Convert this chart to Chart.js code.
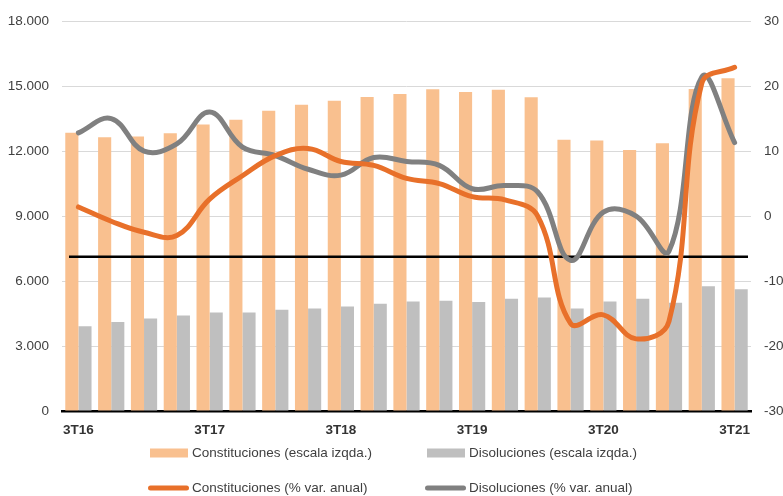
<!DOCTYPE html>
<html>
<head>
<meta charset="utf-8">
<script src="https://cdn.jsdelivr.net/npm/chart.js@4.4.1/dist/chart.umd.min.js"></script>
<style>
html,body{margin:0;padding:0;background:#ffffff;}
canvas{display:block;}
</style>
</head>
<body>
<canvas id="c" width="783" height="496"></canvas>
<script>
// ---- Data ----
const categories = ['3T16','4T16','1T17','2T17','3T17','4T17','1T18','2T18','3T18','4T18','1T19','2T19','3T19','4T19','1T20','2T20','3T20','4T20','1T21','2T21','3T21'];
const shownLabels = ['3T16','3T17','3T18','3T19','3T20','3T21'];
const constituciones = [12850,12640,12670,12820,13230,13450,13860,14140,14320,14500,14640,14850,14730,14830,14490,12520,12490,12050,12360,14860,15360];
const disoluciones = [3910,4110,4270,4410,4550,4550,4670,4730,4820,4950,5060,5090,5030,5180,5240,4730,5050,5180,5000,5760,5620];
const constitucionesVar = [1.4,-0.8,-2.5,-3.0,2.6,6.2,9.3,10.4,8.4,7.8,5.8,5.0,3.0,2.5,0.0,-16.5,-15.2,-18.9,-16.2,20.4,22.9];
const disolucionesVar = [12.8,15.0,10.0,11.1,16.0,10.6,9.3,7.2,6.3,9.0,8.4,7.8,4.2,4.7,3.7,-6.8,0.6,0.0,-5.4,21.4,11.3];
const legendLabels = ['Constituciones (escala izqda.)','Disoluciones (escala izqda.)','Constituciones (% var. anual)','Disoluciones (% var. anual)'];
const leftAxis = {min: 0, max: 18000, step: 3000};
const rightAxis = {min: -30, max: 30, step: 10};
const referenceLevel = 7120; // black horizontal line, left scale units

// ---- Styles ----
const COLORS = {barC:'#F9C08F', barD:'#BFBFBF', lineC:'#E8702A', lineD:'#808080'};
const FONT = "'Liberation Sans', Arial, Helvetica, sans-serif";
const FONT_SIZE = 13.5;
Chart.defaults.font.family = FONT;
Chart.defaults.font.size = FONT_SIZE;
Chart.defaults.color = '#404040';

function fmtThousands(v){
  return String(v).replace(/\B(?=(\d{3})+(?!\d))/g, '.');
}

const refLinePlugin = {
  id: 'refLine',
  afterDatasetDraw(chart, args){
    if (args.index !== 0) return;
    const y = chart.scales.y.getPixelForValue(referenceLevel);
    const a = chart.chartArea;
    const ctx = chart.ctx;
    ctx.save();
    ctx.strokeStyle = '#000000';
    ctx.lineWidth = 2.6;
    ctx.beginPath();
    ctx.moveTo(a.left + 7, y);
    ctx.lineTo(a.right - 3, y);
    ctx.stroke();
    ctx.restore();
  }
};

const gridLegendPlugin = {
  id: 'gridLegend',
  afterDraw(chart){
    const ctx = chart.ctx;
    const cx = chart.width / 2;
    const cols = [cx - 241.5, cx + 35.5];
    const rows = [chart.height - 43, chart.height - 8];
    ctx.save();
    ctx.font = FONT_SIZE + 'px ' + FONT;
    ctx.textBaseline = 'middle';
    ctx.textAlign = 'left';
    chart.data.datasets.forEach((ds, i) => {
      const x = cols[i % 2];
      const y = rows[Math.floor(i / 2)];
      if (ds.type === 'bar') {
        ctx.fillStyle = ds.backgroundColor;
        ctx.fillRect(x, y - 4.5, 38, 9);
      } else {
        ctx.strokeStyle = ds.borderColor;
        ctx.lineWidth = 5;
        ctx.lineCap = 'round';
        ctx.beginPath();
        ctx.moveTo(x + 0.5, y);
        ctx.lineTo(x + 36.5, y);
        ctx.stroke();
      }
      ctx.fillStyle = '#404040';
      ctx.fillText(ds.label, x + 42, y + 0.5);
    });
    ctx.restore();
  }
};

new Chart(document.getElementById('c'), {
  data: {
    labels: categories,
    datasets: [
      {type:'bar', label: legendLabels[0], data: constituciones, yAxisID:'y', backgroundColor: COLORS.barC, borderWidth:0, categoryPercentage:0.8, barPercentage:1.0, order:2},
      {type:'bar', label: legendLabels[1], data: disoluciones, yAxisID:'y', backgroundColor: COLORS.barD, borderWidth:0, categoryPercentage:0.8, barPercentage:1.0, order:2},
      {type:'line', label: legendLabels[2], data: constitucionesVar, yAxisID:'y1', borderColor: COLORS.lineC, backgroundColor: COLORS.lineC, borderWidth:5, pointRadius:0, tension:0.4, borderCapStyle:'round', borderJoinStyle:'round', fill:false, order:1},
      {type:'line', label: legendLabels[3], data: disolucionesVar, yAxisID:'y1', borderColor: COLORS.lineD, backgroundColor: COLORS.lineD, borderWidth:5, pointRadius:0, tension:0.4, borderCapStyle:'round', borderJoinStyle:'round', fill:false, order:1}
    ]
  },
  options: {
    responsive: false,
    animation: false,
    devicePixelRatio: 1,
    layout: {padding: {top: 15, bottom: 58, left: 0, right: 0}},
    plugins: {legend: {display:false}, tooltip: {enabled:false}},
    scales: {
      x: {
        grid: {display:false, drawTicks:false},
        border: {display:true, color:'#000000', width:2.6},
        ticks: {
          autoSkip:false, maxRotation:0, minRotation:0, padding:11,
          color:'#333333', font:{weight:'bold', size:FONT_SIZE},
          callback: function(v, i){ const l = categories[i]; return shownLabels.includes(l) ? l : ''; }
        },
        afterFit(s){ s.height = 27; }
      },
      y: {
        position:'left', min:leftAxis.min, max:leftAxis.max,
        grid: {color:'#D9D9D9', lineWidth:1, drawTicks:false},
        border: {display:false},
        ticks: {stepSize:leftAxis.step, padding:13, color:'#404040', callback: v => fmtThousands(v)},
        afterFit(s){ s.width = 62; }
      },
      y1: {
        position:'right', min:rightAxis.min, max:rightAxis.max,
        grid: {display:false, drawTicks:false},
        border: {display:false},
        ticks: {stepSize:rightAxis.step, padding:13, color:'#404040'},
        afterFit(s){ s.width = 32; }
      }
    }
  },
  plugins: [refLinePlugin, gridLegendPlugin]
});
</script>
</body>
</html>
